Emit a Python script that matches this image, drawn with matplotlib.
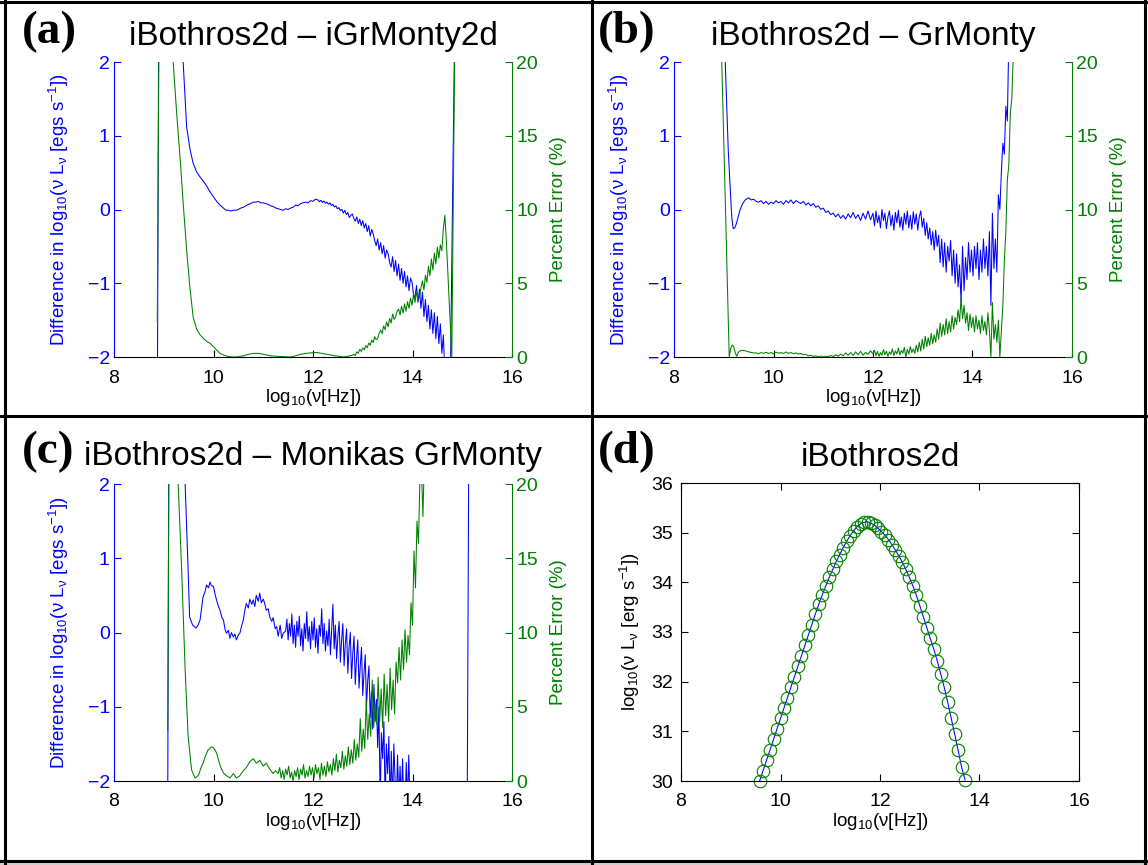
import numpy as np
import matplotlib
matplotlib.use('Agg')
import matplotlib.pyplot as plt
from matplotlib.lines import Line2D
from matplotlib.patches import Rectangle

plt.rcParams['font.family'] = ['Liberation Sans', 'DejaVu Sans']
plt.rcParams['mathtext.fontset'] = 'custom'
plt.rcParams['mathtext.rm'] = 'Liberation Sans'
plt.rcParams['mathtext.it'] = 'Liberation Sans:italic'
plt.rcParams['mathtext.default'] = 'regular'

BLUE = '#0000ff'
GREEN = '#008000'

# ---------------- data ----------------
# (a) iBothros2d - iGrMonty2d
a_diff_x = [8.87, 8.90, 9.20, 9.39, 9.46, 9.53, 9.59, 9.66, 9.73, 9.80, 9.87, 9.93, 10.00, 10.07, 10.13, 10.20]
a_diff_y = [-3.0, 3.0, 3.0, 2.0, 1.12, 0.81, 0.63, 0.51, 0.44, 0.38, 0.31, 0.24, 0.17, 0.105, 0.06, 0.02]
a_diff_mid = [-0.01, -0.01, -0.02, -0.01, -0.01, 0.00, 0.02, 0.03, 0.05, 0.07,
              0.08, 0.10, 0.10, 0.11, 0.09, 0.09, 0.08, 0.07, 0.05, 0.04,
              0.02, 0.01, 0.00, -0.01, 0.01, 0.00, 0.02, 0.03, 0.06, 0.05,
              0.08, 0.09, 0.10, 0.09, 0.12, 0.11, 0.14]  # 10.25 .. 12.05, step 0.05
a_diff_hi = [0.13, 0.105, 0.125, 0.095, 0.115, 0.085, 0.10, 0.07, 0.09, 0.055,
             0.07, 0.035, 0.05, 0.01, 0.025, -0.015, 0.0, -0.05, -0.01, -0.07,
             -0.04, -0.11, -0.08, -0.06, -0.12, -0.16, -0.10, -0.19, -0.13, -0.22,
             -0.15, -0.25, -0.19, -0.30, -0.22, -0.36, -0.27, -0.33, -0.42, -0.49,
             -0.40, -0.55, -0.45, -0.60, -0.49, -0.66, -0.55, -0.60, -0.72, -0.78,
             -0.64, -0.84, -0.69, -0.90, -0.74, -0.96, -0.80, -1.00, -0.84, -1.05,
             -0.90, -1.10, -0.93, -0.98, -1.15, -1.20, -1.03, -1.26, -1.08, -1.34,
             -1.12, -1.45, -1.22, -1.52, -1.30, -1.62, -1.36, -1.68, -1.40, -1.75,
             -1.45, -1.82, -1.55, -1.95, -1.70]  # 12.10 .. 14.62, step 0.03
a_diff_end_x = [14.66, 14.76, 14.85, 14.95]
a_diff_end_y = [-2.4, -2.4, 2.6, 3.0]

a_err_x = [8.87, 8.91, 9.17, 9.19, 9.26, 9.33, 9.40, 9.46, 9.52, 9.59,
           9.66, 9.73, 9.80, 9.87, 9.93, 10.00, 10.07, 10.13, 10.20, 10.30,
           10.40, 10.50, 10.60, 10.70, 10.80, 10.87, 10.95, 11.05, 11.15, 11.30,
           11.45, 11.55, 11.65, 11.75, 11.85, 11.95, 12.07, 12.15, 12.25, 12.35,
           12.45, 12.55, 12.61, 12.70, 12.79]
a_err_y = [2.4, 25, 25, 20, 16.5, 13.4, 10.0, 7.25, 4.9, 2.73,
           1.9, 1.5, 1.25, 1.05, 0.93, 0.7, 0.45, 0.25, 0.14, 0.03,
           0.0, 0.02, 0.08, 0.18, 0.24, 0.25, 0.22, 0.15, 0.08, 0.04,
           0.02, 0.0, 0.08, 0.18, 0.24, 0.28, 0.31, 0.26, 0.2, 0.14,
           0.08, 0.03, 0.0, 0.05, 0.12]
a_err_hi = [0.18, 0.10, 0.35, 0.25, 0.52, 0.38, 0.62, 0.48, 0.78, 0.62,
            0.95, 0.80, 1.15, 0.98, 1.38, 1.18, 1.25, 1.60, 1.82, 1.58,
            2.10, 1.85, 2.38, 2.05, 2.62, 2.30, 2.92, 2.55, 2.70, 3.10,
            3.25, 2.85, 3.45, 2.98, 3.60, 3.10, 3.75, 3.30, 4.00, 3.50,
            4.25, 3.70, 4.45, 3.85, 4.05, 4.70, 5.15, 4.55, 5.55, 5.05,
            6.15, 5.50, 6.65, 5.90, 7.05, 6.30, 7.45, 6.70, 7.60, 7.20,
            8.70, 9.60]  # 12.82 .. 14.65, step 0.03
a_err_end_x = [14.68, 14.79, 14.86]
a_err_end_y = [7.9, 0.0, 25]

# (b) iBothros2d - GrMonty
b_diff_x = [8.98, 9.03, 9.06, 9.09, 9.13, 9.16, 9.19, 9.22, 9.25, 9.29, 9.33, 9.38, 9.43, 9.50, 9.55, 9.60, 9.65]
b_diff_y = [3.0, 2.0, 1.4, 0.81, 0.3, -0.10, -0.26, -0.25, -0.2, -0.1, 0.0, 0.08, 0.13, 0.16, 0.13, 0.14, 0.11]
b_diff_mid = [0.10, 0.12, 0.08, 0.11, 0.07, 0.10, 0.08, 0.12, 0.09, 0.11,
              0.07, 0.12, 0.09, 0.13, 0.08, 0.12, 0.10, 0.08, 0.11, 0.06,
              0.09, 0.05, 0.08, 0.03, 0.05, 0.00, 0.02, -0.04, -0.02, -0.07,
              -0.05, -0.10, -0.06, -0.12, -0.08, -0.13, -0.06, -0.11, -0.04, -0.12,
              -0.07, -0.15, -0.05, -0.13, -0.02, -0.14]  # 9.70 .. 11.95, step 0.05
b_diff_hi = [-0.05, -0.22, -0.02, -0.18, -0.08, -0.25, 0.00, -0.15, -0.05, -0.26,
             -0.10, -0.02, -0.22, -0.08, -0.28, -0.04, -0.18, -0.01, -0.24, -0.10,
             -0.28, -0.05, -0.20, -0.02, -0.25, -0.08, -0.27, -0.03, -0.20, -0.06,
             -0.28, -0.10, -0.02, -0.24, -0.12, -0.35, -0.18, -0.40, -0.25, -0.48,
             -0.30, -0.55, -0.28, -0.50, -0.35, -0.72, -0.40, -0.78, -0.45, -0.85,
             -0.50, -0.70, -0.42, -0.90, -0.55, -1.00, -0.60, -1.05, -0.75, -1.25,
             -0.50, -1.10, -0.65, -0.95, -0.45, -0.85, -0.55, -0.90, -0.50, -0.80,
             -0.45, -0.95, -0.55, -0.85, -0.40, -0.80, -0.50, -0.90, -0.30, -1.30,
             -0.05, -0.80, -0.40, -0.85, 0.20, 0.00, 0.50, 0.90, 0.75, 1.40,
             1.20, 2.30]  # 12.00 .. 14.73, step 0.03
b_diff_end_x = [14.76]
b_diff_end_y = [3.0]

b_err_x = [8.93, 8.96, 9.00, 9.04, 9.08, 9.11, 9.14, 9.17, 9.20, 9.23, 9.26, 9.30, 9.35, 9.40, 9.50, 9.60]
b_err_y = [25, 20, 14.7, 9.3, 4.0, 0.0, 0.6, 0.81, 0.7, 0.3, 0.05, 0.35, 0.45, 0.45, 0.35, 0.28]
b_err_mid = [0.28, 0.22, 0.30, 0.25, 0.32, 0.24, 0.30, 0.22, 0.33, 0.26,
             0.30, 0.24, 0.34, 0.25, 0.30, 0.22, 0.28, 0.20, 0.24, 0.15,
             0.18, 0.08, 0.12, 0.04, 0.08, 0.02, 0.06, 0.00, 0.05, 0.02,
             0.10, 0.03, 0.15, 0.05, 0.20, 0.08, 0.28, 0.12, 0.30, 0.10,
             0.35, 0.15, 0.38, 0.12, 0.32, 0.18, 0.42]  # 9.65 .. 11.95, step 0.05
b_err_hi = [0.20, 0.45, 0.10, 0.38, 0.05, 0.30, 0.12, 0.50, 0.15, 0.40,
            0.05, 0.35, 0.18, 0.55, 0.10, 0.42, 0.20, 0.60, 0.15, 0.45,
            0.25, 0.65, 0.00, 0.50, 0.20, 0.70, 0.30, 0.55, 0.25, 0.80,
            0.35, 1.00, 0.40, 1.20, 0.55, 1.40, 0.70, 1.30, 0.80, 1.60,
            0.90, 1.50, 1.00, 1.90, 1.20, 2.30, 1.40, 2.20, 1.50, 2.60,
            1.60, 2.40, 1.70, 2.80, 1.90, 2.70, 2.20, 3.20, 2.40, 4.00,
            2.60, 3.50, 2.30, 3.00, 1.80, 2.90, 2.00, 2.70, 1.70, 2.80,
            1.90, 2.50, 1.60, 2.80, 1.80, 2.40, 1.50, 3.00, 1.80, 0.00,
            3.70, 1.20, 2.20, 1.00, 2.50, 0.00, 1.80, 3.50, 6.50, 8.50,
            12.0, 13.0, 16.5, 17.5, 20.5]  # 12.00 .. 14.82, step 0.03
b_err_end_x = [14.86]
b_err_end_y = [25]

# (c) iBothros2d - Monikas GrMonty
c_diff_x = [9.08, 9.10, 9.41, 9.43, 9.49, 9.52, 9.58, 9.65, 9.69, 9.73,
            9.79, 9.83, 9.86, 9.90, 9.93, 9.96, 10.00, 10.03, 10.06, 10.10,
            10.13, 10.17, 10.20, 10.23, 10.26, 10.30, 10.33, 10.36, 10.40, 10.43,
            10.46, 10.50, 10.53, 10.57, 10.60, 10.63, 10.66, 10.70, 10.73, 10.77,
            10.80, 10.83, 10.86, 10.90, 10.93, 10.96, 11.00, 11.03, 11.06, 11.10,
            11.13, 11.17, 11.20, 11.24, 11.27, 11.30, 11.34, 11.37, 11.40]
c_diff_y = [-2.3, 2.3, 2.3, 2.0, 0.84, 0.21, 0.10, 0.06, 0.10, 0.17,
            0.48, 0.55, 0.64, 0.60, 0.68, 0.63, 0.62, 0.52, 0.44, 0.35,
            0.30, 0.20, 0.17, 0.05, -0.01, 0.03, -0.08, 0.00, -0.06, -0.02,
            -0.10, -0.03, -0.01, 0.10, 0.17, 0.30, 0.39, 0.33, 0.45, 0.38,
            0.44, 0.35, 0.50, 0.42, 0.53, 0.40, 0.45, 0.39, 0.30, 0.32,
            0.21, 0.15, 0.20, 0.05, 0.08, -0.05, 0.10, -0.08, -0.01]
c_diff_hi = [0.02, 0.18, -0.10, 0.12, -0.05, 0.25, -0.15, 0.10, -0.20, 0.15,
             -0.05, 0.22, -0.18, 0.05, -0.25, 0.12, -0.08, 0.28, -0.12, 0.08,
             -0.22, 0.15, -0.10, 0.20, -0.20, 0.05, -0.28, 0.10, -0.05, 0.32,
             -0.15, 0.12, -0.25, 0.02, -0.18, 0.18, -0.30, 0.05, 0.38, -0.22,
             0.10, -0.35, -0.05, 0.15, -0.40, -0.10, 0.12, -0.45, -0.15, 0.05,
             -0.55, -0.20, 0.00, -0.62, -0.28, -0.05, -0.70, -0.35, -0.10, -0.75,
             -0.45, -0.20, -0.85, -0.55, -0.30, -1.00, -0.65, -0.45, -1.15, -0.80,
             -1.30, -0.70, -1.20, -0.90, -1.55, -1.00, -2.30, -1.35, -1.70, -1.20,
             -2.30, -1.50, -1.90, -1.40, -2.30, -1.60, -2.30, -1.50, -2.00, -2.30,
             -1.65, -2.30, -1.80, -2.30, -1.70, -2.30, -2.30, -1.75, -2.30, -1.65,
             -2.30, -2.30]  # 11.45 .. 13.975, step 0.025
c_diff_end_x = [15.10, 15.13, 15.20]
c_diff_end_y = [-2.3, 2.3, 3.0]

c_err_x = [9.08, 9.11, 9.27, 9.29, 9.36, 9.43, 9.49, 9.56, 9.63, 9.70,
           9.75, 9.79, 9.84, 9.89, 9.93, 9.96, 10.00, 10.06, 10.11, 10.16,
           10.21, 10.26, 10.33, 10.40, 10.46, 10.53, 10.60, 10.66, 10.73, 10.80,
           10.86, 10.93, 11.00, 11.06, 11.13, 11.20, 11.25]
c_err_y = [3.4, 25, 25, 20, 14.2, 7.5, 3.0, 0.74, 0.2, 0.4,
           0.9, 1.19, 1.7, 2.09, 2.2, 2.3, 2.25, 1.9, 1.3, 0.8,
           0.5, 0.36, 0.2, 0.5, 0.2, 0.36, 0.7, 0.9, 1.3, 1.5,
           1.2, 1.4, 1.0, 1.2, 0.8, 0.5, 0.7]
c_err_hi = [0.5, 0.9, 0.2, 0.7, 0.1, 0.8, 0.4, 1.0, 0.2, 0.6,
            0.0, 0.7, 0.3, 0.9, 0.1, 0.8, 0.4, 1.1, 0.2, 0.7,
            0.3, 1.0, 0.4, 0.9, 0.2, 1.1, 0.5, 0.9, 0.1, 1.2,
            0.4, 1.0, 0.3, 1.3, 0.6, 1.1, 0.4, 1.5, 0.7, 1.8,
            0.6, 1.4, 0.9, 2.0, 0.8, 1.7, 1.0, 2.3, 1.1, 2.1,
            1.2, 2.8, 1.4, 2.5, 1.6, 4.2, 2.0, 3.5, 2.2, 5.5,
            2.8, 4.5, 3.0, 6.8, 3.6, 5.2, 3.8, 7.0, 4.0, 6.2,
            3.6, 7.2, 4.4, 6.5, 4.0, 7.6, 4.8, 6.8, 4.5, 8.0,
            6.6, 9.0, 6.8, 9.5, 7.5, 10.2, 8.0, 9.8, 8.5, 12.0,
            10.5, 15.5, 13.0, 17.5, 16.0, 20.5, 21.0, 17.8]  # 11.30 .. 14.21, step 0.03
c_err_end_x = [14.24]
c_err_end_y = [22]

# (d) iBothros2d spectrum, log10(nu L_nu)
d_lum = [30.00, 30.21, 30.42, 30.63, 30.84, 31.05, 31.26, 31.47, 31.68, 31.89,
         32.10, 32.31, 32.52, 32.73, 32.94, 33.15, 33.36, 33.56, 33.75, 33.93,
         34.10, 34.26, 34.42, 34.56, 34.70, 34.83, 34.94, 35.04, 35.12, 35.18,
         35.21, 35.22, 35.19, 35.15, 35.09, 35.02, 34.95, 34.86, 34.76, 34.65,
         34.53, 34.40, 34.26, 34.10, 33.93, 33.74, 33.53, 33.31, 33.09, 32.87,
         32.66, 32.42, 32.16, 31.89, 31.59, 31.27, 30.95, 30.62, 30.28, 30.02]  # 9.58 .. 13.71, step 0.07

TICK_FS = 14
LABEL_FS = 13.5


def grid(start, step, vals):
    return list(np.round(start + step * np.arange(len(vals)), 4))


def join(*pieces):
    xs, ys = [], []
    for x, y in pieces:
        xs += list(x)
        ys += list(y)
    return xs, ys


def diff_panel(rect, dx, dy, ex, ey):
    ax = fig.add_axes(rect)
    ax2 = ax.twinx()
    ax.plot(dx, dy, color=BLUE, lw=0.75)
    ax2.plot(ex, ey, color=GREEN, lw=0.75)
    ax.set_xlim(8, 16)
    ax.set_ylim(-2, 2)
    ax2.set_ylim(0, 20)
    ax.set_xticks([8, 10, 12, 14, 16])
    ax.set_yticks([-2, -1, 0, 1, 2])
    ax2.set_yticks([0, 5, 10, 15, 20])
    ax.spines['top'].set_visible(False)
    ax.spines['right'].set_visible(False)
    ax.spines['left'].set_color(BLUE)
    for s in ['top', 'left', 'bottom']:
        ax2.spines[s].set_visible(False)
    ax2.spines['right'].set_color(GREEN)
    for a in (ax, ax2):
        for s in a.spines.values():
            s.set_linewidth(0.8)
    ax.tick_params(axis='y', colors=BLUE, direction='in', length=5, pad=3, labelsize=TICK_FS)
    ax.tick_params(axis='x', colors='black', direction='in', length=5, pad=9, labelsize=TICK_FS, top=False)
    ax2.tick_params(axis='y', colors=GREEN, direction='in', length=5, pad=3, labelsize=TICK_FS)
    ax.set_ylabel('Difference in log$_{10}$(ν L$_{ν}$ [egs s$^{-1}$])', color=BLUE, fontsize=LABEL_FS)
    ax.yaxis.set_label_coords(-0.108, 0.5)
    ax2.set_ylabel('Percent Error (%)', color=GREEN, fontsize=LABEL_FS)
    ax2.yaxis.set_label_coords(1.095, 0.5)
    ax.set_xlabel('log$_{10}$(ν[Hz])', fontsize=LABEL_FS)
    ax.xaxis.set_label_coords(0.5, -0.1)
    return ax


W, H = 1148, 865
fig = plt.figure(figsize=(W / 100, H / 100), dpi=100)

# panel (a)
ax_a = diff_panel([114 / W, 1 - 357 / H, 398 / W, 295 / H],
                  *join((a_diff_x, a_diff_y), (grid(10.25, 0.05, a_diff_mid), a_diff_mid),
                        (grid(12.10, 0.03, a_diff_hi), a_diff_hi), (a_diff_end_x, a_diff_end_y)),
                  *join((a_err_x, a_err_y), (grid(12.82, 0.03, a_err_hi), a_err_hi),
                        (a_err_end_x, a_err_end_y)))

# panel (b)
ax_b = diff_panel([674 / W, 1 - 357 / H, 398 / W, 295 / H],
                  *join((b_diff_x, b_diff_y), (grid(9.70, 0.05, b_diff_mid), b_diff_mid),
                        (grid(12.00, 0.03, b_diff_hi), b_diff_hi), (b_diff_end_x, b_diff_end_y)),
                  *join((b_err_x, b_err_y), (grid(9.65, 0.05, b_err_mid), b_err_mid),
                        (grid(12.00, 0.03, b_err_hi), b_err_hi), (b_err_end_x, b_err_end_y)))

# panel (c)
ax_c = diff_panel([114 / W, 1 - 781 / H, 398 / W, 297 / H],
                  *join((c_diff_x, c_diff_y), (grid(11.45, 0.025, c_diff_hi), c_diff_hi),
                        (c_diff_end_x, c_diff_end_y)),
                  *join((c_err_x, c_err_y), (grid(11.30, 0.03, c_err_hi), c_err_hi),
                        (c_err_end_x, c_err_end_y)))

# panel (d)
ax_d = fig.add_axes([681 / W, 1 - 781 / H, 398 / W, 298 / H])
d_nu = grid(9.58, 0.07, d_lum)
ax_d.plot(d_nu, d_lum, color=BLUE, lw=0.75)
ax_d.plot(d_nu, d_lum, 'o', mfc='none', mec=GREEN, ms=9, mew=0.8, clip_on=False)
ax_d.set_xlim(8, 16)
ax_d.set_ylim(30, 36)
ax_d.set_xticks([8, 10, 12, 14, 16])
ax_d.set_yticks([30, 31, 32, 33, 34, 35, 36])
for s in ax_d.spines.values():
    s.set_linewidth(0.8)
ax_d.tick_params(direction='in', length=5, top=True, right=True, labelsize=TICK_FS)
ax_d.tick_params(axis='x', pad=9)
ax_d.tick_params(axis='y', pad=5.5)
ax_d.set_ylabel('log$_{10}$(ν L$_{ν}$ [erg s$^{-1}$])', fontsize=LABEL_FS)
ax_d.yaxis.set_label_coords(-0.098, 0.5)
ax_d.set_xlabel('log$_{10}$(ν[Hz])', fontsize=LABEL_FS)
ax_d.xaxis.set_label_coords(0.5, -0.1)

# titles and panel letters
titles = ['iBothros2d – iGrMonty2d', 'iBothros2d – GrMonty',
          'iBothros2d – Monikas GrMonty', 'iBothros2d']
title_pos = [(313, 45), (873, 45), (313, 465), (880, 466)]
letters = ['(a)', '(b)', '(c)', '(d)']
letter_pos = [(22, 43), (598, 43), (22, 463), (598, 463)]
for t, (x, y) in zip(titles, title_pos):
    fig.text(x / W, 1 - y / H, t, ha='center', va='baseline', fontsize=24)
for t, (x, y) in zip(letters, letter_pos):
    fig.text(x / W, 1 - y / H, t, ha='left', va='baseline', fontsize=34,
             fontweight='bold', family=['Liberation Serif', 'DejaVu Serif'])

# panel frame lines
frame = [((5, 5), (0, 863)), ((1145, 1145), (0, 863)), ((592, 592), (0, 863)),
         ((0, 1148), (2, 2)), ((0, 1148), (416, 416)), ((0, 1148), (861, 861))]
for xs, ys in frame:
    fig.add_artist(Line2D([v / W for v in xs], [1 - v / H for v in ys],
                          transform=fig.transFigure, color='black', lw=2.2))
fig.add_artist(Rectangle((0, 0), 1, 2.5 / H, transform=fig.transFigure,
                         color='#cfcfcf', lw=0))

fig.savefig('out.png', dpi=100)
